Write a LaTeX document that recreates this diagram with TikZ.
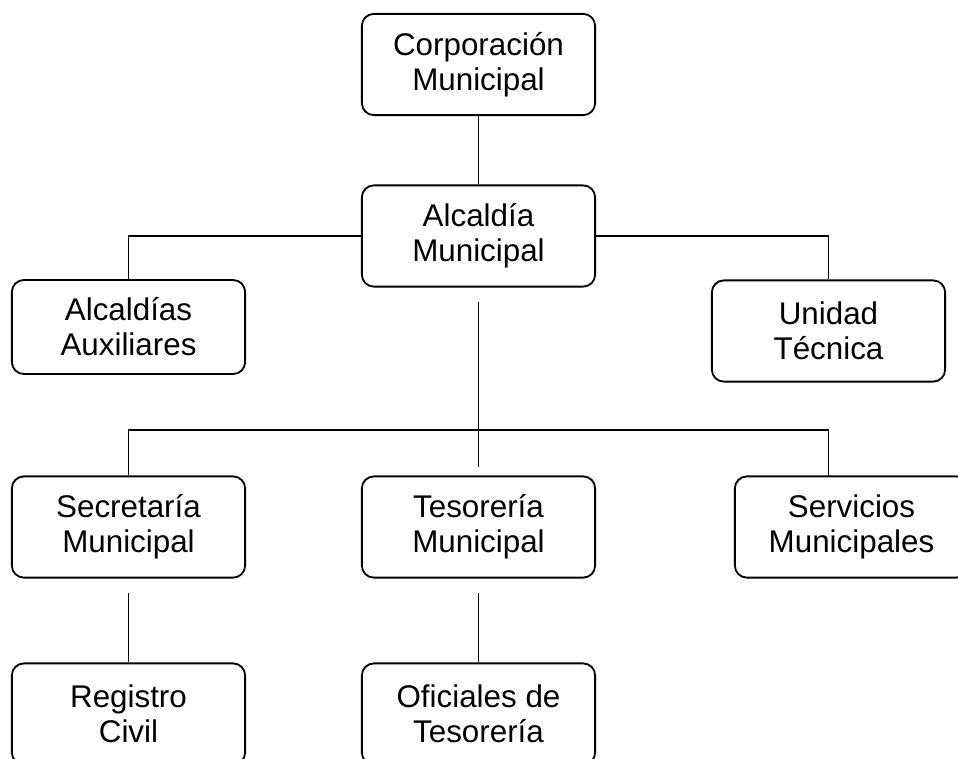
\documentclass[tikz,border=0pt]{standalone}
\usepackage{fontspec}
\setmainfont{Liberation Sans}
\usepackage{tikz}
\usetikzlibrary{calc,positioning}

\tikzset{
  unit/.style={draw, rounded corners=0.3cm, line width=1.3pt, align=center,
    minimum width=5.83cm, minimum height=2.53cm, inner sep=0pt,
    font=\fontsize{22.3}{25}\selectfont},
  link/.style={line width=1.3pt}
}

\begin{document}
\begin{tikzpicture}[x=0.025cm, y=-0.025cm]
		\useasboundingbox (0,0) rectangle (958,758);
		\node[unit] (corp) at (478.5,64.5) {Corporación\\Municipal};
		\node[unit] (alc) at (478.5,236) {Alcaldía\\Municipal};
		\node[unit, minimum height=2.35cm] (aux) at (128.5,327) {Alcaldías\\Auxiliares};
		\node[unit] (uni) at (828.5,331) {Unidad\\Técnica};
		\node[unit] (sec) at (128.5,527) {Secretaría\\Municipal};
		\node[unit] (tes) at (478.5,527) {Tesorería\\Municipal};
		\node[unit] (ser) at (851.5,527) {Servicios\\Municipales};
		\node[unit] (reg) at (128.5,714) {Registro\\Civil};
		\node[unit] (ofi) at (478.5,714) {Oficiales de\\Tesorería};
		\coordinate (alcdown) at (478.5,302);
		\coordinate (tesup) at (478.5,467);
		\coordinate (busr) at (828.5,430);
		\coordinate (serin) at (828.5,477);
		\coordinate (secdown) at (128.5,593);
		\coordinate (tesdown) at (478.5,593);
		\draw[link] (corp) -- (alc);
		\draw[link] (alc.west) -| (aux.north);
		\draw[link] (alc.east) -| (uni.north);
		\draw[link] (alcdown) -- (tesup);
		\draw[link] (sec.north) |- (busr) -- (serin);
		\draw[link] (secdown) -- (reg.north);
		\draw[link] (tesdown) -- (ofi.north);
		\end{tikzpicture}
\end{document}
